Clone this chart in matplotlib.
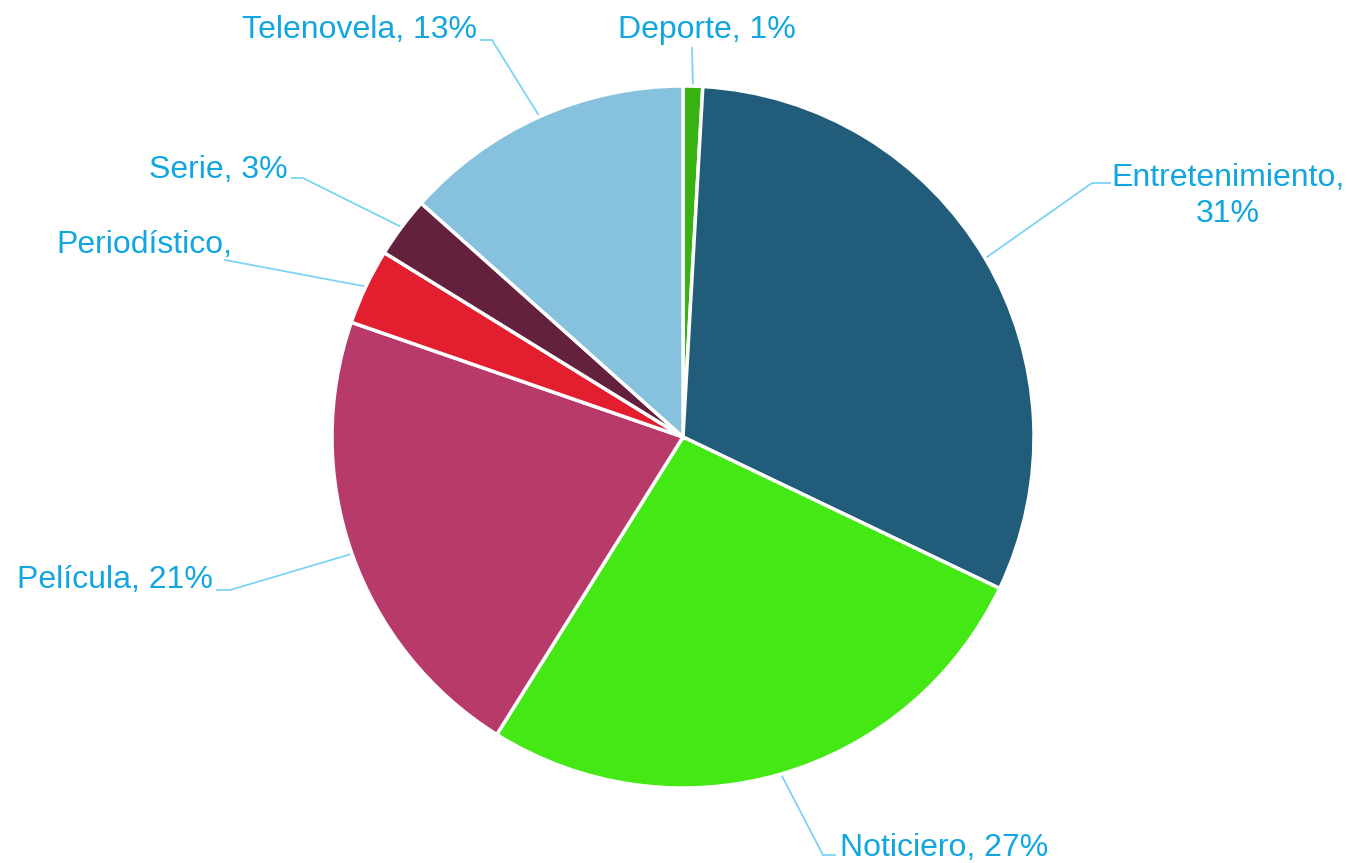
import matplotlib.pyplot as plt
import numpy as np

plt.rcParams['font.family'] = ['Liberation Sans', 'DejaVu Sans']

categories = ["Deporte", "Entretenimiento", "Noticiero", "Película",
              "Periodístico", "Serie", "Telenovela"]
shares = [0.9, 31.2, 26.8, 21.4, 3.5, 2.8, 13.4]
labels = ["Deporte, 1%", "Entretenimiento,\n31%", "Noticiero, 27%",
          "Película, 21%", "Periodístico,", "Serie, 3%", "Telenovela, 13%"]
colors = ["#38b212", "#215c7a", "#43e815", "#b83a6b",
          "#e31e2e", "#64213d", "#86c2de"]

W, H = 1347, 863
fig = plt.figure(figsize=(W / 100, H / 100), dpi=100)
ax = fig.add_axes([0, 0, 1, 1])

cx, cy, r = 683, H - 437, 351
wedges, _ = ax.pie(shares, colors=colors, startangle=90, counterclock=False,
                   center=(cx, cy), radius=r, frame=True,
                   wedgeprops=dict(edgecolor='white', linewidth=2.5))
ax.set_xlim(0, W)
ax.set_ylim(0, H)
ax.set_aspect('equal')
ax.axis('off')

txt_col = "#12a6e0"
line_col = "#7dd2f5"

# label layout: (text x, text y, ha, elbow points from text side) in pixel coords (y down)
layout = [
    (707, 30, 'center', [(692, 48)]),
    (1228, 196, 'center', [(1110, 183), (1092, 183)]),
    (840, 848, 'left', [(835, 855), (823, 855)]),
    (213, 580, 'right', [(217, 590), (230, 590)]),
    (232, 245, 'right', [(225, 260)]),
    (288, 170, 'right', [(292, 178), (303, 178)]),
    (477, 30, 'right', [(481, 40), (492, 40)]),
]

for w, lab, (tx, ty, ha, pts) in zip(wedges, labels, layout):
    mid = np.deg2rad((w.theta1 + w.theta2) / 2)
    ex = cx + r * np.cos(mid)
    ey = cy + r * np.sin(mid)
    xs = [p[0] for p in pts] + [ex]
    ys = [H - p[1] for p in pts] + [ey]
    ax.plot(xs, ys, color=line_col, lw=1.3, zorder=0)
    ax.text(tx, H - ty, lab, ha=ha, va='center', color=txt_col,
            fontsize=23, linespacing=1.25)

fig.savefig("out.png", dpi=100)
